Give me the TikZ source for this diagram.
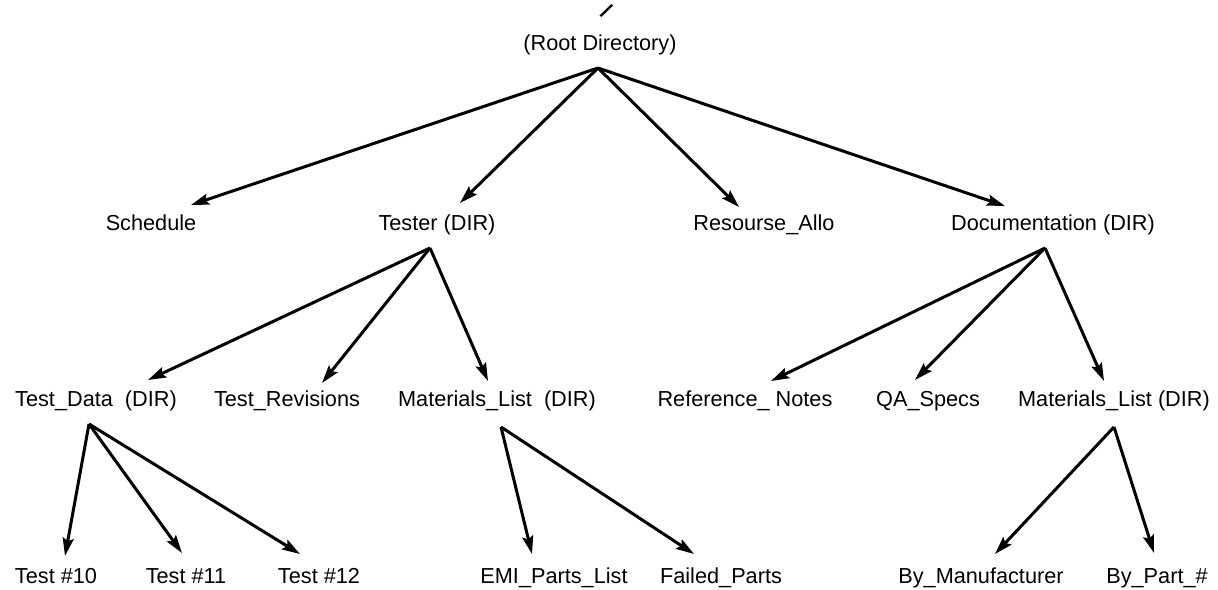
\documentclass[tikz,border=0pt]{standalone}
\usepackage{fontspec}
\setmainfont{Liberation Sans}
\usetikzlibrary{arrows.meta}
\begin{document}
\begin{tikzpicture}[x=1pt,y=-1pt,
  label/.style={anchor=base,inner sep=0pt,font=\fontsize{21.7}{24}\selectfont},
  link/.style={line width=3pt,-{Stealth[length=18pt,width=11pt,inset=3pt]}}]
\useasboundingbox (0,0) rectangle (1218,589);
% root
\node[label,rotate=-35,font=\fontsize{21.7}{24}\selectfont\bfseries] (slash) at (602,17) {/};
\node[label] (root) at (600,50) {(Root Directory)};
\coordinate (root-o) at (598,68);
% first level
\node[label] (sched) at (151,230) {Schedule};
\node[label] (tester) at (437,230) {Tester (DIR)};
\node[label] (res) at (764,230) {Resourse\_Allo};
\node[label] (doc) at (1053,230) {Documentation (DIR)};
\coordinate (sched-t) at (191,205);
\coordinate (tester-t) at (460,203);
\coordinate (res-t) at (739,207);
\coordinate (doc-t) at (1005,206);
\draw[link] (root-o) -- (sched-t);
\draw[link] (root-o) -- (tester-t);
\draw[link] (root-o) -- (res-t);
\draw[link] (root-o) -- (doc-t);
% second level
\node[label] (tdata) at (96,406) {Test\_Data\ \ (DIR)};
\node[label] (trev) at (287,406) {Test\_Revisions};
\node[label] (mat1) at (497,406) {Materials\_List\ \ (DIR)};
\node[label] (ref) at (745,406) {Reference\_ Notes};
\node[label] (qa) at (928,406) {QA\_Specs};
\node[label] (mat2) at (1114,406) {Materials\_List (DIR)};
\coordinate (tester-o) at (430,248);
\coordinate (doc-o) at (1045,248);
\coordinate (tdata-t) at (148,380);
\coordinate (trev-t) at (322,383);
\coordinate (mat1-t) at (488,381);
\coordinate (ref-t) at (771,381);
\coordinate (qa-t) at (915,380);
\coordinate (mat2-t) at (1104,381);
\draw[link] (tester-o) -- (tdata-t);
\draw[link] (tester-o) -- (trev-t);
\draw[link] (tester-o) -- (mat1-t);
\draw[link] (doc-o) -- (ref-t);
\draw[link] (doc-o) -- (qa-t);
\draw[link] (doc-o) -- (mat2-t);
% third level
\node[label] (t10) at (56,583) {Test \#10};
\node[label] (t11) at (186,583) {Test \#11};
\node[label] (t12) at (319,583) {Test \#12};
\node[label] (emi) at (554,583) {EMI\_Parts\_List};
\node[label] (failed) at (721,583) {Failed\_Parts};
\node[label] (bym) at (981,583) {By\_Manufacturer};
\node[label] (byp) at (1157,583) {By\_Part\_\#};
\coordinate (tdata-o) at (89,424);
\coordinate (mat1-o) at (501,427);
\coordinate (mat2-o) at (1114,427);
\coordinate (t10-t) at (65,556);
\coordinate (t11-t) at (182,553);
\coordinate (t12-t) at (300,554);
\coordinate (emi-t) at (532,554);
\coordinate (failed-t) at (694,554);
\coordinate (bym-t) at (995,554);
\coordinate (byp-t) at (1154,553);
\draw[link] (tdata-o) -- (t10-t);
\draw[link] (tdata-o) -- (t11-t);
\draw[link] (tdata-o) -- (t12-t);
\draw[link] (mat1-o) -- (emi-t);
\draw[link] (mat1-o) -- (failed-t);
\draw[link] (mat2-o) -- (bym-t);
\draw[link] (mat2-o) -- (byp-t);
\end{tikzpicture}
\end{document}
